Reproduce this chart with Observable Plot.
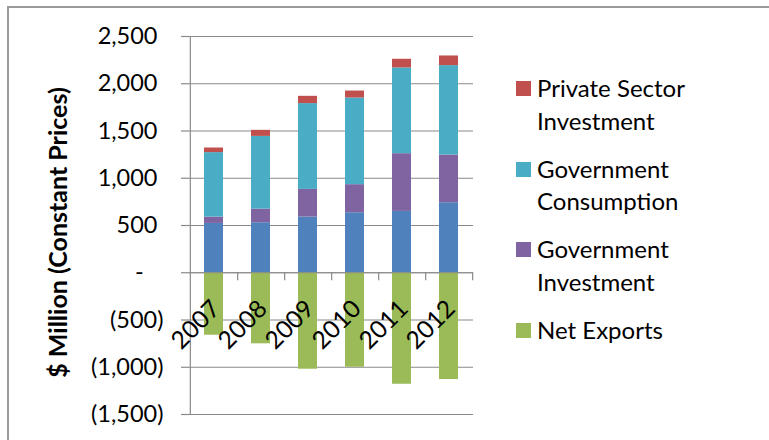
<!DOCTYPE html>
<html><head><meta charset="utf-8">
<script src="https://cdn.jsdelivr.net/npm/d3@7"></script>
<script src="https://cdn.jsdelivr.net/npm/@observablehq/plot@0.6"></script>
<style>
body{margin:0;background:#fff;font-family:Lato,"Open Sans",sans-serif;}
#wrap{position:relative;width:769px;height:440px;overflow:hidden;background:#fff;}
#frame{position:absolute;left:7px;top:6px;width:800px;height:480px;border-top:2px solid #9a9a9a;border-left:2px solid #9a9a9a;}
#chart{position:absolute;left:0;top:0;}
#legend{position:absolute;left:516px;top:72px;font-size:24px;color:#000;}
.item{display:flex;margin-bottom:15.5px;line-height:32.5px;}
.sw{width:15px;height:15px;margin-top:9px;margin-right:6px;flex:none;}
</style></head>
<body><div id="wrap"><div id="frame"></div><div id="chart"></div><div id="legend"></div></div>
<script>
// ---- data ----
const years = ["2007", "2008", "2009", "2010", "2011", "2012"];
const privateConsumption      = [522, 529, 589, 635, 649, 741];
const governmentInvestment    = [67, 144, 293, 297, 611, 505];
const governmentConsumption   = [682, 770, 908, 917, 907, 946];
const privateSectorInvestment = [49, 64, 77, 74, 92, 102];
const netExports              = [-661, -752, -1021, -1000, -1180, -1130];

const seriesNames = ["Private Consumption", "Government Investment", "Government Consumption", "Private Sector Investment", "Net Exports"];
const seriesColors = ["#4F81BD", "#8064A2", "#4BACC6", "#C0504D", "#9BBB59"];
const seriesValues = [privateConsumption, governmentInvestment, governmentConsumption, privateSectorInvestment, netExports];
const legendNames = ["Private Sector Investment", "Government Consumption", "Government Investment", "Net Exports"];
const legendLines = [["Private Sector", "Investment"], ["Government", "Consumption"], ["Government", "Investment"], ["Net Exports"]];
const yTicks = [-1500, -1000, -500, 0, 500, 1000, 1500, 2000, 2500];
const yTitle = "$ Million (Constant Prices)";

// ---- build table ----
const rows = [];
seriesNames.forEach((s, k) => years.forEach((y, i) => rows.push({year: y, series: s, value: seriesValues[k][i]})));

const fmtNum = d3.format(",");
const tickFmt = d => d < 0 ? `(${fmtNum(-d)})` : d === 0 ? "-\u2007\u00a0" : fmtNum(d) + "\u00a0";

const W = 769, H = 440, mL = 189, mR = 296, mT = 36, mB = 26;
const step = (W - mL - mR) / years.length;

const chart = Plot.plot({
  width: W, height: H,
  marginTop: mT, marginBottom: mB, marginLeft: mL, marginRight: mR,
  style: {fontFamily: "Lato, 'Open Sans', sans-serif", fontSize: "23.5px", color: "#000", background: "transparent"},
  x: {type: "band", domain: years, paddingInner: 0.6, paddingOuter: 0.3, align: 0.5, axis: null},
  y: {domain: [-1500, 2500], axis: null},
  color: {domain: seriesNames, range: seriesColors},
  marks: [
    Plot.ruleY(yTicks, {stroke: "#8a8a8a", strokeWidth: 1.2}),
    Plot.barY(rows, Plot.stackY({x: "year", y: "value", fill: "series", order: null})),
    Plot.ruleY([0], {stroke: "#8a8a8a", strokeWidth: 1.2}),
    Plot.ruleX(years, {x: d => d, y1: () => 0, y2: () => 0, insetBottom: -8, dx: step / 2, stroke: "#8a8a8a", strokeWidth: 1.2}),
    Plot.ruleX([years[0]], {x: d => d, dx: -step / 2, stroke: "#8a8a8a", strokeWidth: 1.2}),
    Plot.axisY(yTicks, {tickSize: 8, tickPadding: 18, tickFormat: tickFmt, stroke: "#8a8a8a", strokeWidth: 1.2, label: null, fontSize: 23.5}),
    Plot.text(years, {x: d => d, y: () => 0, rotate: -45, textAnchor: "end", dx: 2, dy: 32, fontSize: 24.5, fill: "#000"}),
    Plot.text([yTitle], {frameAnchor: "left", rotate: -90, textAnchor: "middle", dx: -131, dy: 7, fontWeight: "bold", fontSize: 25, fill: "#000"})
  ]
});
document.getElementById("chart").appendChild(chart);

const legend = document.getElementById("legend");
legendNames.forEach((name, j) => {
  const item = document.createElement("div");
  item.className = "item";
  const sw = document.createElement("div");
  sw.className = "sw";
  sw.style.background = seriesColors[seriesNames.indexOf(name)];
  const txt = document.createElement("div");
  txt.innerHTML = legendLines[j].join("<br>");
  item.appendChild(sw); item.appendChild(txt);
  legend.appendChild(item);
});
</script>
</body></html>
